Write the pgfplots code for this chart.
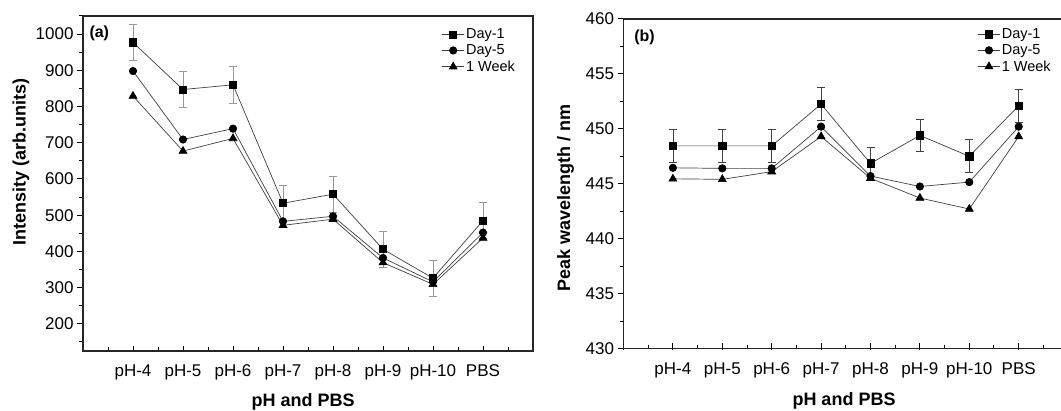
\documentclass[border=0pt]{standalone}
\usepackage{fontspec}
\setmainfont{Liberation Sans}
\usepackage{pgfplots}
\pgfplotsset{compat=1.18}

\tikzset{lab/.style={font=\fontsize{18}{18}\selectfont\bfseries}}

% shared look of both panels (1pt = 1px of the reference)
\pgfplotsset{
  panel/.style={
    scale only axis,
    xmin=0, xmax=9,
    xtick={0,...,9},
    xticklabels={,pH-4,pH-5,pH-6,pH-7,pH-8,pH-9,pH-10,PBS,},
    minor x tick num=1,
    minor y tick num=1,
    xtick pos=bottom, ytick pos=left,
    tick align=inside,
    major tick length=6pt, minor tick length=4pt,
    every major y tick/.append style={xshift=-6pt},
    every minor y tick/.append style={xshift=-4pt},
    every major x tick/.append style={yshift=-1pt},
    tick style={black, line width=1pt},
    axis line style={black!85, line width=1.3pt},
    /pgf/number format/assume math mode=true,
    /pgf/number format/1000 sep={},
    tick label style={font=\fontsize{17}{17}\selectfont},
    xticklabel style={anchor=base, yshift=-25.7pt},
    yticklabel style={anchor=east, xshift=-6pt},
    every axis plot/.append style={line width=0.7pt, black!75},
    legend cell align=left,
    legend image code/.code={
      \draw[mark repeat=2, mark phase=2, #1] plot coordinates {(0pt,0pt) (11pt,0pt) (22pt,0pt)};},
    legend style={anchor=north west, draw=none, fill=none, inner sep=0pt,
      row sep=1.5pt, nodes={inner sep=1.5pt},
      font=\fontsize{14.5}{15}\selectfont},
  },
  sq/.style={mark=square*, mark size=3.6pt, mark options={fill=black, draw=black, solid}},
  ci/.style={mark=*, mark size=3.7pt, mark options={fill=black, draw=black, solid}},
  tr/.style={mark=triangle*, mark size=4.5pt, mark options={fill=black, draw=black, solid}},
}

\begin{document}
\begin{tikzpicture}
\useasboundingbox (0pt,0pt) rectangle (1061pt,410pt);
\clip (0pt,0pt) rectangle (1061pt,410pt);

% ---------- (a) intensity ----------
\begin{axis}[panel,
  at={(83pt,59pt)}, anchor=south west,
  width=450pt, height=335pt,
  ymin=125, ymax=1050,
  ytick={100,200,...,1100},
  xlabel={pH and PBS},
  ylabel={Intensity (arb.units)},
  every axis x label/.style={lab, at={(axis description cs:0.489,-0.1642)}, anchor=base},
  every axis y label/.style={lab, at={(axis description cs:-0.138,0.565)}, rotate=90, anchor=center},
  legend style={at={(axis description cs:0.797,0.967)}},
]
\addplot[sq, error bars/.cd, y dir=both, y explicit,
  error bar style={black!40, line width=0.8pt},
  error mark options={rotate=90, mark size=4pt, black!40, line width=0.8pt}]
coordinates {
  (1,977) +- (0,50)
  (2,847) +- (0,50)
  (3,860) +- (0,50)
  (4,533) +- (0,50)
  (5,558) +- (0,50)
  (6,406) +- (0,50)
  (7,326) +- (0,50)
  (8,485) +- (0,50)
};
\addlegendentry{Day-1}
\addplot[ci] coordinates {
  (1,898) (2,709) (3,739) (4,483) (5,497) (6,382) (7,316) (8,452)
};
\addlegendentry{Day-5}
\addplot[tr] coordinates {
  (1,829) (2,677) (3,712) (4,472) (5,489) (6,369) (7,309) (8,437)
};
\addlegendentry{1 Week}
\node[anchor=west, inner sep=0pt, font=\fontsize{16}{16}\selectfont\bfseries]
  at (axis description cs:0.014,0.949) {(a)};
\end{axis}

% ---------- (b) peak wavelength ----------
\begin{axis}[panel,
  at={(623.5pt,61.5pt)}, anchor=south west,
  width=444.6pt, height=329.5pt,
  ymin=430, ymax=460,
  ytick={430,435,...,460},
  xlabel={pH and PBS},
  ylabel={Peak wavelength / nm},
  every axis x label/.style={lab, at={(axis description cs:0.496,-0.1745)}, anchor=base},
  every axis y label/.style={lab, at={(axis description cs:-0.1305,0.458)}, rotate=90, anchor=center},
  legend style={at={(axis description cs:0.796,0.976)}},
]
\addplot[sq, error bars/.cd, y dir=both, y explicit,
  error bar style={black!75, line width=0.8pt},
  error mark options={rotate=90, mark size=4pt, black!75, line width=0.8pt}]
coordinates {
  (1,448.45) +- (0,1.5)
  (2,448.45) +- (0,1.5)
  (3,448.45) +- (0,1.5)
  (4,452.25) +- (0,1.5)
  (5,446.85) +- (0,1.5)
  (6,449.40) +- (0,1.5)
  (7,447.50) +- (0,1.5)
  (8,452.10) +- (0,1.5)
};
\addlegendentry{Day-1}
\addplot[ci] coordinates {
  (1,446.45) (2,446.40) (3,446.40) (4,450.20) (5,445.70) (6,444.75) (7,445.15) (8,450.20)
};
\addlegendentry{Day-5}
\addplot[tr] coordinates {
  (1,445.45) (2,445.40) (3,446.10) (4,449.30) (5,445.50) (6,443.70) (7,442.70) (8,449.30)
};
\addlegendentry{1 Week}
\node[anchor=west, inner sep=0pt, font=\fontsize{16}{16}\selectfont\bfseries]
  at (axis description cs:0.024,0.945) {(b)};
\end{axis}
\end{tikzpicture}
\end{document}
